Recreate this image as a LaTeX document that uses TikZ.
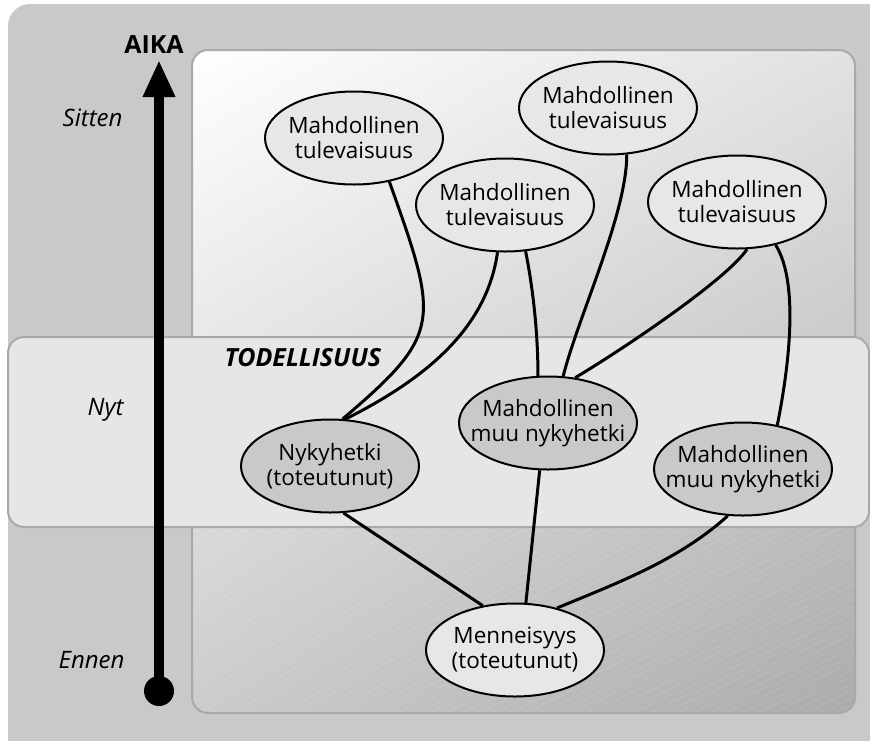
\documentclass[tikz,border=0pt]{standalone}
\usepackage{fontspec}
\setmainfont{Open Sans}
\usetikzlibrary{arrows.meta,shapes.geometric,shadings}

\definecolor{bggray}{RGB}{200,201,203}
\definecolor{bandgray}{RGB}{229,230,232}
\definecolor{edgegray}{RGB}{168,169,171}
\definecolor{lightnode}{RGB}{230,231,232}
\definecolor{darknode}{RGB}{200,201,203}
\definecolor{panelTR}{RGB}{224,225,227}
\definecolor{panelBL}{RGB}{202,203,205}
\definecolor{panelBR}{RGB}{170,171,173}

\newcommand\nodefont{\fontsize{22.5}{25}\selectfont}

\tikzset{
  future/.style={ellipse, draw=black, line width=2pt, fill=lightnode,
    minimum width=178pt, minimum height=93pt, inner xsep=-22pt, inner ysep=0pt,
    align=center, font=\nodefont},
  present/.style={future, fill=darknode},
  link/.style={line width=3pt, black},
  timelabel/.style={anchor=east, font=\fontsize{24}{28}\selectfont\itshape},
  timeline/.style={line width=10pt, -{Triangle[length=37pt,width=30pt]}},
  dot/.style={circle, fill=black, minimum size=30pt, inner sep=0pt},
}

\begin{document}
\begin{tikzpicture}[x=1pt, y=-1pt]
  \useasboundingbox (0,0) rectangle (870,740);
  \clip (0,0) rectangle (870,740);

  % backgrounds
  \fill[bggray, rounded corners=22pt] (8,4) rectangle (900,770);
  \shade[upper left=white, upper right=panelTR, lower left=panelBL,
    lower right=panelBR, rounded corners=16pt] (192,50) rectangle (855,713);
  \begin{scope}
    \clip[rounded corners=16pt] (192,50) rectangle (855,713);
    \foreach \k in {0,...,140}
      \draw[white, opacity=0.15, line width=0.6pt] (192,50+\k*7) -- ++(700,-315);
  \end{scope}
  \draw[edgegray, line width=2pt, rounded corners=16pt] (192,50) rectangle (855,713);
  \draw[fill=bandgray, draw=edgegray, line width=2pt, rounded corners=16pt]
    (8,337) rectangle (869,527);

  % time axis
  \node[dot] (tstart) at (159,691) {};
  \coordinate (tend) at (159,60);
  \draw[timeline] (tstart.center) -- (tend);
  \node[font=\fontsize{25}{28}\selectfont\bfseries] (aika) at (154,45) {AIKA};
  \node[timelabel] (sitten) at (126,118) {Sitten};
  \node[timelabel] (nyt) at (127,410) {Nyt};
  \node[timelabel] (ennen) at (128,660) {Ennen};
  \node[anchor=west, font=\fontsize{25}{28}\selectfont\bfseries\itshape]
    (todellisuus) at (221,358) {TODELLISUUS};

  % states
  \node[future] (fut1) at (354,138) {Mahdollinen\\tulevaisuus};
  \node[future] (fut2) at (608,108) {Mahdollinen\\tulevaisuus};
  \node[future] (fut3) at (505,205) {Mahdollinen\\tulevaisuus};
  \node[future] (fut4) at (737,202) {Mahdollinen\\tulevaisuus};
  \node[present] (now) at (330,466) {Nykyhetki\\(toteutunut)};
  \node[present] (alt1) at (548,423) {Mahdollinen\\muu nykyhetki};
  \node[present] (alt2) at (743,469) {Mahdollinen\\muu nykyhetki};
  \node[future] (past) at (515,650) {Menneisyys\\(toteutunut)};

  % links
  \draw[link] (fut1.-51) .. controls +(50,140) and +(100,-85) .. (now.75);
  \draw[link] (fut3.-99) .. controls +(-10,70) and +(90,-45) .. (now.72);
  \draw[link] (fut3.-66) .. controls +(8,40) and +(0,-40) .. (alt1.102);
  \draw[link] (fut2.-68) .. controls +(0,60) and +(15,-60) .. (alt1.72);
  \draw[link] (fut4.-78) .. controls +(-20,30) and +(50,-30) .. (alt1.59);
  \draw[link] (fut4.-48) .. controls +(25,40) and +(10,-50) .. (alt2.52);
  \draw[link] (now.-74) -- (past.126);
  \draw[link] (alt1.-100) -- (past.77);
  \draw[link] (alt2.-108) .. controls +(-50,45) and +(60,-25) .. (past.45);
\end{tikzpicture}
\end{document}
